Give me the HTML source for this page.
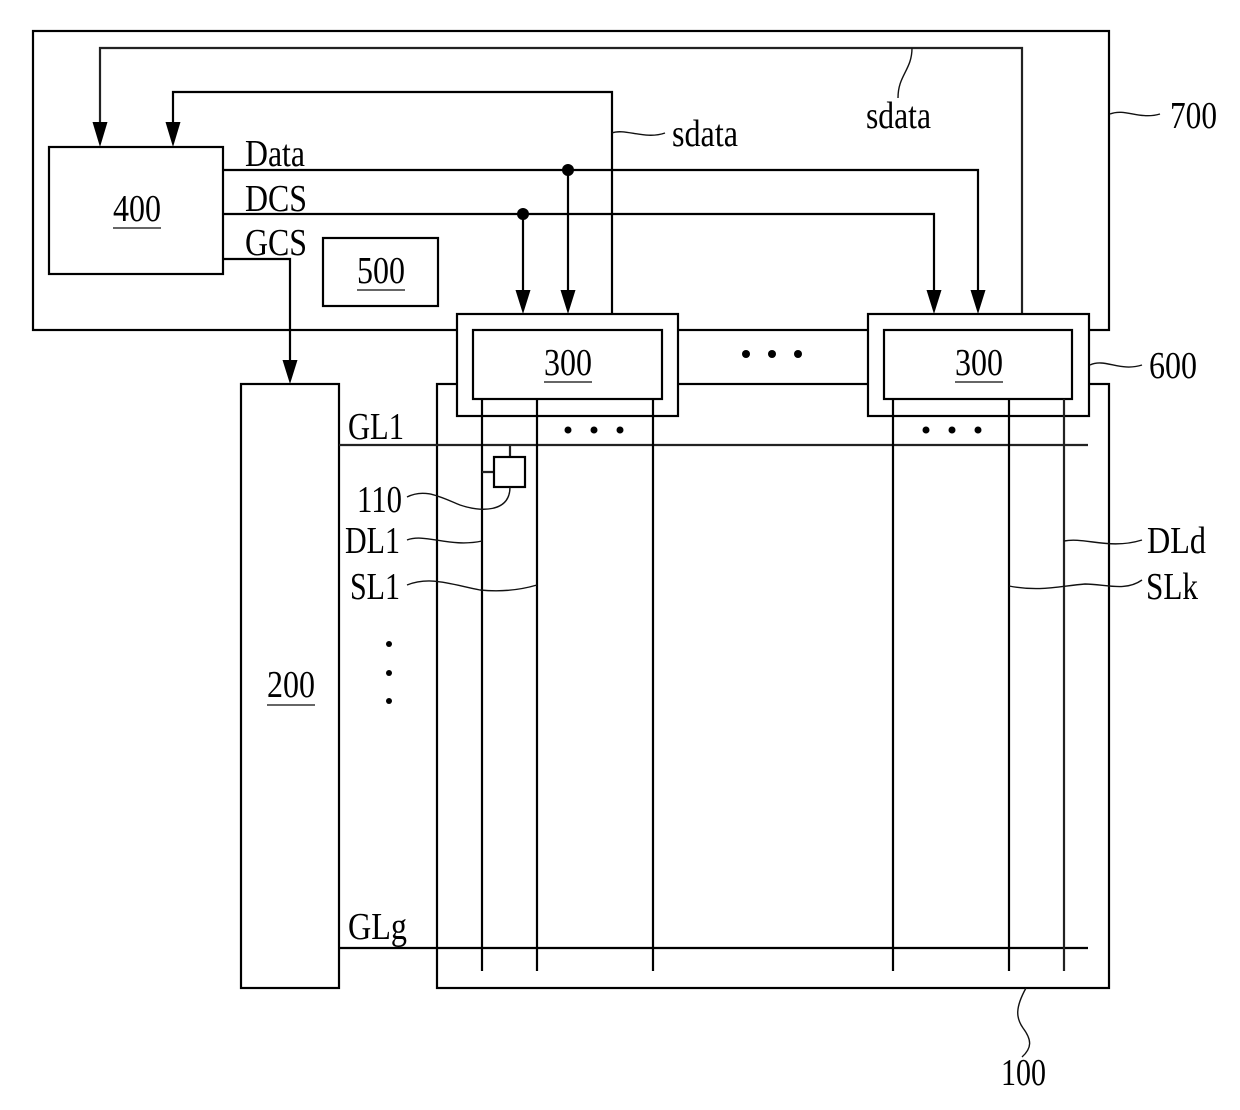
<!DOCTYPE html>
<html>
<head>
<meta charset="utf-8">
<style>
html,body{margin:0;padding:0;background:#fff}
svg{display:block}
text{font-family:"Liberation Serif",serif;font-size:38px;fill:#000}
.l{fill:none;stroke:#000;stroke-width:2.2}
.g{fill:none;stroke:#222;stroke-width:2.2}
.b{fill:#fff;stroke:#000;stroke-width:2.2}
.t{fill:none;stroke:#111;stroke-width:1.4}
</style>
</head>
<body>
<svg width="1240" height="1110" viewBox="0 0 1240 1110" xmlns="http://www.w3.org/2000/svg">
<rect width="1240" height="1110" fill="#fff"/>

<!-- 700 -->
<rect class="l" x="33" y="31" width="1076" height="299"/>
<!-- 100 -->
<rect class="l" x="437" y="384" width="672" height="604"/>
<!-- 200 -->
<rect class="l" x="241" y="384" width="98" height="604"/>

<!-- sdata lines -->
<path class="g" d="M100,125V48H1022V314"/>
<path class="l" d="M173,125V92H612V314"/>
<!-- Data / DCS / GCS -->
<path class="l" d="M223,170H978V294"/>
<path class="l" d="M223,214H934V294"/>
<path class="l" d="M568,170V294"/>
<path class="l" d="M523,214V294"/>
<path class="l" d="M223,259H290V364"/>
<circle cx="568" cy="170" r="6"/>
<circle cx="523" cy="214" r="6"/>

<!-- arrowheads -->
<path d="M92.500,122H107.500L100,147Z"/>
<path d="M165.500,122H180.500L173,147Z"/>
<path d="M515.500,290H530.500L523,314Z"/>
<path d="M560.500,290H575.500L568,314Z"/>
<path d="M926.500,290H941.500L934,314Z"/>
<path d="M970.500,290H985.500L978,314Z"/>
<path d="M282.500,360H297.500L290,384Z"/>

<!-- 400 and 500 -->
<rect class="b" x="49" y="147" width="174" height="127"/>
<rect class="b" x="323" y="238" width="115" height="68"/>

<!-- 600/300 -->
<rect class="b" x="457" y="314" width="221" height="102"/>
<rect class="b" x="473" y="330" width="189" height="69"/>
<rect class="b" x="868" y="314" width="221" height="102"/>
<rect class="b" x="884" y="330" width="188" height="69"/>

<!-- grid -->
<path class="g" d="M339,445H1088"/>
<path class="l" d="M339,948H1088"/>
<path class="l" d="M482,399V971M537,399V971M653,399V971M893,399V971M1009,399V971"/>
<path class="g" d="M1064,399V971"/>

<!-- pixel -->
<path class="g" d="M510,445V457M482,472H494"/>
<rect class="b" x="494" y="457" width="31" height="30"/>

<!-- leaders -->
<path class="t" d="M407,497C425,488 440,497 460,505C480,512 510,513 510,487"/>
<path class="t" d="M407,540C425,533 450,548 482,541"/>
<path class="t" d="M407,585C430,576 450,584 480,590C500,592 520,590 537,585"/>
<path class="t" d="M1064,541C1085,537 1110,550 1142,540"/>
<path class="t" d="M1009,586C1040,592 1060,586 1085,584C1105,584 1125,592 1142,580"/>
<path class="t" d="M1110,114C1125,108 1140,120 1160,114"/>
<path class="t" d="M1090,365C1105,358 1120,372 1142,365"/>
<path class="t" d="M612,133C625,128 645,140 665,133"/>
<path class="t" d="M912,48C912,70 898,75 898,98"/>
<path class="t" d="M1026,988C1015,1008 1016,1018 1023,1028C1032,1040 1032,1048 1022,1057"/>

<!-- dots -->
<g>
<circle cx="746" cy="354" r="4"/><circle cx="772" cy="354" r="4"/><circle cx="798" cy="354" r="4"/>
<circle cx="568" cy="430" r="3.5"/><circle cx="594" cy="430" r="3.500"/><circle cx="620" cy="430" r="3.5"/>
<circle cx="926" cy="430" r="3.5"/><circle cx="952" cy="430" r="3.5"/><circle cx="978" cy="430" r="3.5"/>
<circle cx="389" cy="644" r="3"/><circle cx="389" cy="673" r="3"/><circle cx="389" cy="701" r="3"/>
</g>

<!-- underlines -->
<path stroke="#333" stroke-width="1.6" d="M113,228H161M357,290H405M544,382H592M955,382H1003M267,705H315"/>

<!-- labels -->
<text x="113" y="221" textLength="48" lengthAdjust="spacingAndGlyphs">400</text>
<text x="357" y="283" textLength="48" lengthAdjust="spacingAndGlyphs">500</text>
<text x="544" y="375" textLength="48" lengthAdjust="spacingAndGlyphs">300</text>
<text x="955" y="375" textLength="48" lengthAdjust="spacingAndGlyphs">300</text>
<text x="267" y="697" textLength="48" lengthAdjust="spacingAndGlyphs">200</text>
<text x="245" y="166" textLength="60" lengthAdjust="spacingAndGlyphs">Data</text>
<text x="245" y="211" textLength="62" lengthAdjust="spacingAndGlyphs">DCS</text>
<text x="245" y="255" textLength="62" lengthAdjust="spacingAndGlyphs">GCS</text>
<text x="672" y="146" textLength="66" lengthAdjust="spacingAndGlyphs">sdata</text>
<text x="866" y="128" textLength="65" lengthAdjust="spacingAndGlyphs">sdata</text>
<text x="1170" y="128" textLength="47" lengthAdjust="spacingAndGlyphs">700</text>
<text x="1149" y="378" textLength="48" lengthAdjust="spacingAndGlyphs">600</text>
<text x="348" y="439" textLength="56" lengthAdjust="spacingAndGlyphs">GL1</text>
<text x="357" y="512" textLength="45" lengthAdjust="spacingAndGlyphs">110</text>
<text x="345" y="553" textLength="55" lengthAdjust="spacingAndGlyphs">DL1</text>
<text x="350" y="599" textLength="50" lengthAdjust="spacingAndGlyphs">SL1</text>
<text x="348" y="939" textLength="59" lengthAdjust="spacingAndGlyphs">GLg</text>
<text x="1147" y="553" textLength="59" lengthAdjust="spacingAndGlyphs">DLd</text>
<text x="1146" y="599" textLength="52" lengthAdjust="spacingAndGlyphs">SLk</text>
<text x="1001" y="1085" textLength="45" lengthAdjust="spacingAndGlyphs">100</text>
</svg>
</body>
</html>
